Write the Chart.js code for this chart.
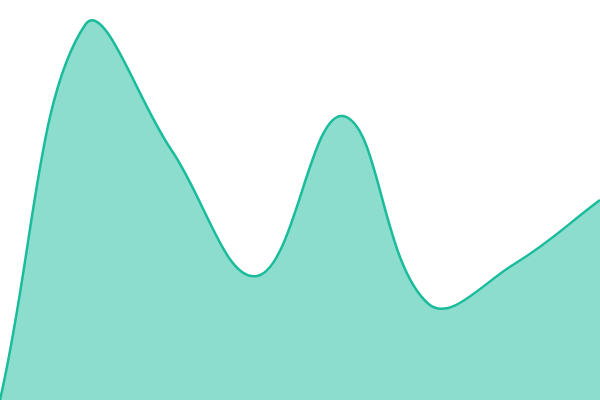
<!DOCTYPE html>
<html><head><meta charset="utf-8">
<script src="https://cdn.jsdelivr.net/npm/chart.js@4"></script>
<style>html,body{margin:0;padding:0;background:#fff}#wrap{width:600px;height:400px}</style>
</head><body><div id="wrap"><canvas id="c"></canvas></div>
<script>
const labels = ["1","2","3","4","5","6","7","8"];
const values = [0, 94, 62.5, 31, 71, 24, 34, 50];
new Chart(document.getElementById('c'), {
  type: 'line',
  data: { labels: labels, datasets: [{
    data: values,
    fill: 'origin',
    backgroundColor: 'rgba(26,188,156,0.5)',
    borderColor: '#1abc9c',
    borderWidth: 2.5,
    tension: 0.4,
    pointRadius: 0
  }]},
  options: {
    responsive: true, maintainAspectRatio: false, animation: false,
    layout: { padding: 0 },
    plugins: { legend: { display: false }, tooltip: { enabled: false } },
    scales: {
      x: { display: false, offset: false },
      y: { display: false, min: 0, max: 100 }
    }
  }
});
</script></body></html>
